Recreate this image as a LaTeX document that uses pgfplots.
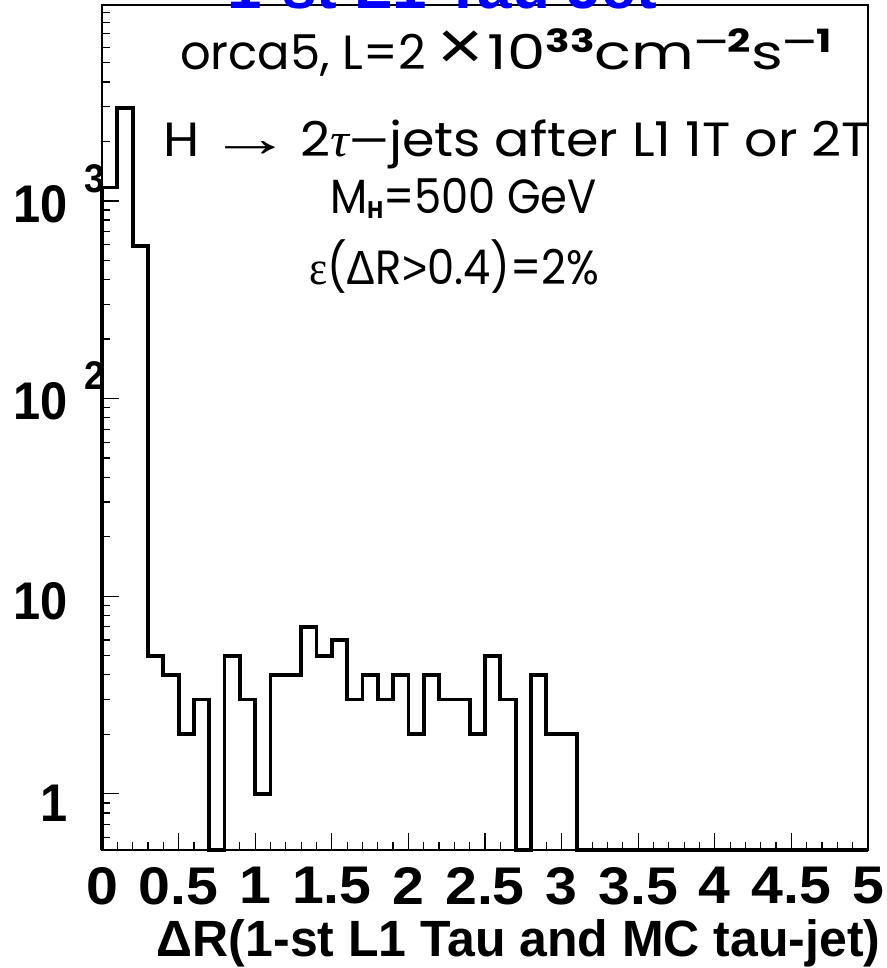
\documentclass[border=0pt]{standalone}
\usepackage{pgfplots}
\pgfplotsset{compat=1.18}
\usepackage{fontspec}
\setmainfont{Liberation Sans}
\newfontfamily\tickfont{Liberation Sans}[FakeStretch=1.08]
\newfontfamily\ytickfont{Liberation Sans}[FakeStretch=0.92]
\newfontfamily\xlabfont{Liberation Sans}[FakeStretch=0.98]
\newfontfamily\annfont{Poppins}
\newfontfamily\symfont{Liberation Sans}
\newfontfamily\serfont{Liberation Serif}
\newcommand{\ylab}[2]{\raisebox{#1}[0pt][0pt]{#2}}
\newcommand{\tsup}[1]{\rlap{\kern 17pt\raisebox{30pt}{\fontsize{40}{40}\selectfont\bfseries #1}}}
\newcommand{\sups}[1]{\raisebox{17pt}{\fontsize{32}{32}\selectfont\bfseries #1}}
\begin{document}
\begin{tikzpicture}[x=1pt,y=1pt]
\useasboundingbox (0,0) rectangle (886,968);
\begin{axis}[
  at={(102pt,118pt)}, anchor=south west,
  width=766pt, height=845pt, scale only axis,
  xmin=0, xmax=5, ymode=log, ymin=0.52, ymax=9800,
  axis line style={line width=1.5pt},
  clip=false,
  tick align=inside, xtick pos=bottom, ytick pos=left,
  major tick length=17pt, minor tick length=8pt,
  every tick/.style={black, line width=1.2pt},
  xtick={0,0.5,1,1.5,2,2.5,3,3.5,4,4.5,5},
  xticklabels={0,0.5,1,1.5,2,2.5,3,3.5,4,4.5,5},
  minor xtick={0.1,0.2,0.3,0.4,0.6,0.7,0.8,0.9,1.1,1.2,1.3,1.4,1.6,1.7,1.8,1.9,2.1,2.2,2.3,2.4,2.6,2.7,2.8,2.9,3.1,3.2,3.3,3.4,3.6,3.7,3.8,3.9,4.1,4.2,4.3,4.4,4.6,4.7,4.8,4.9},
  ytick={1,10,100,1000},
  yticklabels={\ylab{-28pt}{1},\ylab{-23pt}{10},\ylab{-21pt}{10\tsup{2}},\ylab{-22pt}{10\tsup{3}}},
  minor ytick={0.6,0.7,0.8,0.9,2,3,4,5,6,7,8,9,20,30,40,50,60,70,80,90,200,300,400,500,600,700,800,900,2000,3000,4000,5000,6000,7000,8000,9000},
  xticklabel style={font=\fontsize{53}{53}\tickfont\bfseries, anchor=north, yshift=-14pt},
  yticklabel style={font=\fontsize{53}{53}\ytickfont\bfseries, anchor=east, xshift=-31pt},
  xlabel={ΔR(1-st L1 Tau and MC tau-jet)},
  xlabel style={font=\fontsize{51}{51}\xlabfont\bfseries, anchor=east, at={(axis description cs:1.021,-0.110)}},
]
\addplot[const plot, line width=3.8pt, black] coordinates {
(0,0.52) (0,1170) (0.1,2960) (0.2,590) (0.3,5) (0.4,4) (0.5,2) (0.6,3) (0.7,0.52)
(0.8,5) (0.9,3) (1.0,1) (1.1,4) (1.2,4) (1.3,7) (1.4,5) (1.5,6) (1.6,3) (1.7,4)
(1.8,3) (1.9,4) (2.0,2) (2.1,4) (2.2,3) (2.3,3) (2.4,2) (2.5,5) (2.6,3) (2.7,0.52)
(2.8,4) (2.9,2) (3.0,2) (3.1,0.52) (5.0,0.52)};
\addplot[line width=2.5pt, black] coordinates {(5,0.52) (5,1)};
\end{axis}
\node[anchor=base, text=blue, inner sep=0pt, font=\fontsize{62}{62}\selectfont\bfseries] at (442,959) {1-st L1 Tau Jet};
\begin{scope}[every node/.style={inner sep=0pt, font=\fontsize{48}{48}\annfont}]
\node[anchor=base west] at (180,898) {orca5, L=2\,\scalebox{1.27}[1]{\hspace{3pt}{\symfont\scalebox{1.3}[1.45]{×}}\hspace{3pt}10\sups{33}cm\sups{{\symfont\scalebox{1.4}[1]{−}}2}s\sups{{\symfont\scalebox{1.4}[1]{−}}1}}};
\node[anchor=base west] at (163,811) {\scalebox{1.09}[1]{H\,{\symfont\scalebox{1.6}[1.1]{→}}\,2{\serfont\itshape τ}{\symfont\scalebox{1.3}[1]{−}}jets after L1 1T or 2T}};
\node[anchor=base west] at (330,754) {\scalebox{0.9}[1]{M\raisebox{-5pt}{\fontsize{24}{24}\selectfont\bfseries H}=500 GeV}};
\node[anchor=base west] at (309,683) {\scalebox{0.9}[1]{{\serfont ε}({\symfont Δ}R{\symfont >}0.4)=2\%}};
\end{scope}
\end{tikzpicture}
\end{document}
